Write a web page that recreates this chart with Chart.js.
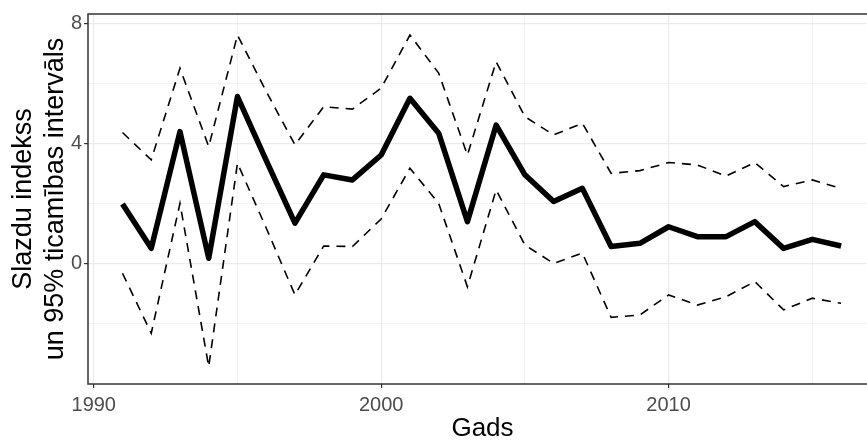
<!DOCTYPE html>
<html><head><meta charset="utf-8">
<script src="https://cdn.jsdelivr.net/npm/chart.js@4/dist/chart.umd.min.js"></script>
<style>html,body{margin:0;padding:0;overflow:hidden;background:#fff;width:867px;height:442px}</style>
</head><body>
<canvas id="c" width="877" height="442" style="display:block;width:877px;height:442px"></canvas>
<script>
const years = [1991,1992,1993,1994,1995,1996,1997,1998,1999,2000,2001,2002,2003,2004,2005,2006,2007,2008,2009,2010,2011,2012,2013,2014,2015,2016];
const indexValues = [2.0,0.52,4.41,0.19,5.58,3.45,1.36,2.97,2.8,3.63,5.52,4.36,1.41,4.63,2.97,2.08,2.52,0.58,0.69,1.24,0.91,0.91,1.41,0.52,0.82,0.6];
const upperValues = [4.38,3.47,6.52,3.91,7.63,5.75,3.97,5.24,5.16,5.86,7.63,6.36,3.63,6.74,4.91,4.3,4.69,3.02,3.11,3.38,3.3,2.93,3.38,2.58,2.8,2.52];
const lowerValues = [-0.31,-2.31,2.02,-3.42,3.36,1.2,-1.03,0.6,0.58,1.5,3.19,2.02,-0.76,2.47,0.63,0.02,0.36,-1.78,-1.7,-1.03,-1.37,-1.09,-0.59,-1.53,-1.14,-1.31];
const xGridTicks = [1990,1995,2000,2005,2010,2015];
const xTickLabels = [1990,2000,2010];
const yGridTicks = [-2,0,2,4,6,8];
const yTickLabels = [0,4,8];
const xTitle = 'Gads';
const yTitle = ['Slazdu indekss','un 95% ticamības intervāls'];

const FONT = "'Liberation Sans', Arial, sans-serif";
const pts = vals => years.map((y,i)=>({x:y, y:vals[i]}));

const panelBorder = {
  id:'panelBorder',
  afterDatasetsDraw(chart){
    const {ctx, chartArea:a} = chart;
    ctx.save();
    ctx.strokeStyle = '#333333';
    ctx.lineWidth = 1.5;
    ctx.strokeRect(a.left, a.top, a.right - a.left, a.bottom - a.top);
    ctx.restore();
  }
};

new Chart(document.getElementById('c'), {
  type:'line',
  data:{
    datasets:[
      {data:pts(upperValues), borderColor:'#000', borderWidth:1.6, borderDash:[9,7], pointRadius:0, tension:0, fill:false},
      {data:pts(lowerValues), borderColor:'#000', borderWidth:1.6, borderDash:[9,7], pointRadius:0, tension:0, fill:false},
      {data:pts(indexValues), borderColor:'#000', borderWidth:5.5, borderJoinStyle:'round', pointRadius:0, tension:0, fill:false}
    ]
  },
  options:{
    responsive:false, animation:false, devicePixelRatio:1,
    layout:{padding:{top:14,left:0,right:0,bottom:0}},
    plugins:{legend:{display:false}, tooltip:{enabled:false}},
    scales:{
      x:{
        type:'linear', min:1989.8, max:2017.25,
        afterBuildTicks: s => { s.ticks = xGridTicks.map(v=>({value:v})); },
        afterFit: s => { s.height = 58; },
        ticks:{autoSkip:false, maxRotation:0, padding:5, color:'#4D4D4D', font:{family:FONT, size:20},
          callback: v => xTickLabels.includes(v) ? String(v) : ''},
        grid:{
          color: c => (c.tick && xTickLabels.includes(c.tick.value)) ? '#EBEBEB' : '#F2F2F2',
          lineWidth: c => (c.tick && xTickLabels.includes(c.tick.value)) ? 1.2 : 1,
          tickLength:4, tickWidth:1.2,
          tickColor: c => (c.tick && xTickLabels.includes(c.tick.value)) ? '#333333' : 'rgba(0,0,0,0)'
        },
        border:{display:false},
        title:{display:true, text:xTitle, color:'#000', font:{family:FONT, size:26, lineHeight:1}, padding:{top:0,bottom:0}}
      },
      y:{
        type:'linear', min:-4.0, max:8.33,
        afterBuildTicks: s => { s.ticks = yGridTicks.map(v=>({value:v})); },
        afterFit: s => { s.width = 88; },
        ticks:{autoSkip:false, padding:2, color:'#4D4D4D', font:{family:FONT, size:20},
          callback: v => yTickLabels.includes(v) ? String(v) : ''},
        grid:{
          color: c => (c.tick && yTickLabels.includes(c.tick.value)) ? '#EBEBEB' : '#F2F2F2',
          lineWidth: c => (c.tick && yTickLabels.includes(c.tick.value)) ? 1.2 : 1,
          tickLength:4, tickWidth:1.2,
          tickColor: c => (c.tick && yTickLabels.includes(c.tick.value)) ? '#333333' : 'rgba(0,0,0,0)'
        },
        border:{display:false},
        title:{display:true, text:yTitle, color:'#000', font:{family:FONT, size:27, lineHeight:1.2}, padding:{top:7,bottom:0}}
      }
    }
  },
  plugins:[panelBorder]
});
</script>
</body></html>
